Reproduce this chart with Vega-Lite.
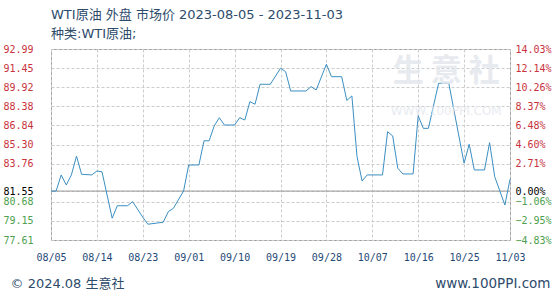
{
  "$schema": "https://vega.github.io/schema/vega-lite/v6.json",
  "autosize": "none",
  "width": 459,
  "height": 191,
  "padding": {"left": 51, "top": 49, "right": 50, "bottom": 60},
  "background": "#ffffff",
  "config": {
    "view": {"stroke": "#999999", "strokeWidth": 1},
    "font": "DejaVu Sans, Noto Sans CJK SC"
  },
  "title": {
    "text": "WTI原油 外盘 市场价 2023-08-05 - 2023-11-03",
    "subtitle": "种类:WTI原油;",
    "anchor": "start",
    "frame": "group",
    "offset": 3,
    "font": "DejaVu Sans, Noto Sans CJK SC",
    "fontSize": 13,
    "fontWeight": "normal",
    "color": "#2d4b6b",
    "subtitleFont": "DejaVu Sans, Noto Sans CJK SC",
    "subtitleFontSize": 13,
    "subtitleColor": "#2d4b6b",
    "subtitlePadding": 6
  },
  "datasets": {
    "price": [
      {"date": "2023-08-05", "value": 81.55},
      {"date": "2023-08-06", "value": 81.55},
      {"date": "2023-08-07", "value": 82.85},
      {"date": "2023-08-08", "value": 82.04},
      {"date": "2023-08-09", "value": 82.85},
      {"date": "2023-08-10", "value": 84.37},
      {"date": "2023-08-11", "value": 82.9},
      {"date": "2023-08-13", "value": 82.85},
      {"date": "2023-08-14", "value": 83.17},
      {"date": "2023-08-15", "value": 83.1},
      {"date": "2023-08-17", "value": 79.36},
      {"date": "2023-08-18", "value": 80.37},
      {"date": "2023-08-20", "value": 80.37},
      {"date": "2023-08-21", "value": 80.7},
      {"date": "2023-08-23", "value": 79.44},
      {"date": "2023-08-24", "value": 78.88},
      {"date": "2023-08-27", "value": 79.04},
      {"date": "2023-08-28", "value": 79.89},
      {"date": "2023-08-29", "value": 80.16},
      {"date": "2023-08-31", "value": 81.56},
      {"date": "2023-09-01", "value": 83.65},
      {"date": "2023-09-03", "value": 83.65},
      {"date": "2023-09-04", "value": 85.6},
      {"date": "2023-09-05", "value": 85.6},
      {"date": "2023-09-06", "value": 86.79},
      {"date": "2023-09-07", "value": 87.46},
      {"date": "2023-09-08", "value": 86.87},
      {"date": "2023-09-10", "value": 86.87},
      {"date": "2023-09-11", "value": 87.46},
      {"date": "2023-09-12", "value": 87.27},
      {"date": "2023-09-13", "value": 88.75},
      {"date": "2023-09-14", "value": 88.54},
      {"date": "2023-09-15", "value": 90.15},
      {"date": "2023-09-17", "value": 90.15},
      {"date": "2023-09-19", "value": 91.44},
      {"date": "2023-09-20", "value": 91.16},
      {"date": "2023-09-21", "value": 89.61},
      {"date": "2023-09-24", "value": 89.61},
      {"date": "2023-09-25", "value": 89.96},
      {"date": "2023-09-26", "value": 89.69},
      {"date": "2023-09-28", "value": 91.76},
      {"date": "2023-09-29", "value": 90.76},
      {"date": "2023-10-01", "value": 90.76},
      {"date": "2023-10-02", "value": 88.85},
      {"date": "2023-10-03", "value": 89.21},
      {"date": "2023-10-04", "value": 84.32},
      {"date": "2023-10-05", "value": 82.36},
      {"date": "2023-10-06", "value": 82.85},
      {"date": "2023-10-09", "value": 82.85},
      {"date": "2023-10-10", "value": 86.33},
      {"date": "2023-10-11", "value": 85.99},
      {"date": "2023-10-12", "value": 83.38},
      {"date": "2023-10-13", "value": 82.93},
      {"date": "2023-10-15", "value": 82.93},
      {"date": "2023-10-16", "value": 87.62},
      {"date": "2023-10-17", "value": 86.6},
      {"date": "2023-10-18", "value": 86.6},
      {"date": "2023-10-20", "value": 90.23},
      {"date": "2023-10-22", "value": 90.23},
      {"date": "2023-10-25", "value": 83.79},
      {"date": "2023-10-26", "value": 85.32},
      {"date": "2023-10-27", "value": 83.25},
      {"date": "2023-10-29", "value": 83.25},
      {"date": "2023-10-30", "value": 85.45},
      {"date": "2023-10-31", "value": 82.71},
      {"date": "2023-11-02", "value": 80.43},
      {"date": "2023-11-03", "value": 82.5}
    ],
    "watermark": [
      {"label": "生  意  社", "sub": "WWW.100PPI.COM"}
    ]
  },
  "layer": [
    {
      "data": {"values": [{}]},
      "mark": {"type": "rule", "color": "#999999", "strokeWidth": 1},
      "encoding": {
        "y": {
          "datum": 81.55,
          "type": "quantitative",
          "scale": {"domain": [77.61, 92.99], "nice": false, "zero": false},
          "axis": {
            "orient": "left",
            "title": null,
            "values": [77.61, 79.148, 80.684, 81.55, 83.762, 85.3, 86.838, 88.376, 89.916, 91.452, 92.99],
            "format": ".2f",
            "domain": false,
            "ticks": false,
            "labelPadding": 18,
            "labelFont": "DejaVu Sans Mono",
            "labelFontSize": 10,
            "labelColor": {"condition": [{"test": "datum.value > 81.56", "value": "#c8323c"}, {"test": "datum.value < 81.54", "value": "#4ea04e"}], "value": "#000000"},
            "labelBaseline": "middle",
            "grid": true,
            "gridColor": "#cccccc",
            "gridDash": [3, 2],
            "gridWidth": 1
          }
        }
      }
    },
    {
      "data": {"name": "price"},
      "mark": {"type": "line", "color": "#3b8fc2", "strokeWidth": 1, "interpolate": "linear"},
      "encoding": {
        "x": {
          "field": "date",
          "type": "temporal",
          "scale": {"type": "utc", "domain": [{"year": 2023, "month": 8, "date": 5, "utc": true}, {"year": 2023, "month": 11, "date": 3, "utc": true}], "nice": false},
          "axis": {
            "title": "© 2024.08 生意社",
            "titleAnchor": "start",
            "titleAlign": "left",
            "titleBaseline": "middle",
            "titleX": -41,
            "titleY": 43,
            "titleFont": "DejaVu Sans, Noto Sans CJK SC",
            "titleFontSize": 13,
            "titleFontWeight": "normal",
            "titleColor": "#2d4b6b",
            "values": [
              {"year": 2023, "month": 8, "date": 5, "utc": true},
              {"year": 2023, "month": 8, "date": 14, "utc": true},
              {"year": 2023, "month": 8, "date": 23, "utc": true},
              {"year": 2023, "month": 9, "date": 1, "utc": true},
              {"year": 2023, "month": 9, "date": 10, "utc": true},
              {"year": 2023, "month": 9, "date": 19, "utc": true},
              {"year": 2023, "month": 9, "date": 28, "utc": true},
              {"year": 2023, "month": 10, "date": 7, "utc": true},
              {"year": 2023, "month": 10, "date": 16, "utc": true},
              {"year": 2023, "month": 10, "date": 25, "utc": true},
              {"year": 2023, "month": 11, "date": 3, "utc": true}
            ],
            "labelExpr": "utcFormat(datum.value, '%m/%d')",
            "labelFont": "DejaVu Sans Mono",
            "labelFontSize": 10,
            "labelColor": "#1f4a78",
            "labelPadding": 12,
            "labelFlush": false,
            "labelOverlap": false,
            "domain": false,
            "ticks": false,
            "grid": true,
            "gridColor": "#cccccc",
            "gridDash": [3, 2]
          }
        },
        "y": {
          "field": "value",
          "type": "quantitative",
          "axis": {
            "orient": "right",
            "title": "www.100PPI.com",
            "titleAngle": 0,
            "titleAlign": "right",
            "titleBaseline": "middle",
            "titleX": 40,
            "titleY": 234,
            "titleFont": "DejaVu Sans",
            "titleFontSize": 13.5,
            "titleFontWeight": "normal",
            "titleColor": "#2d4b6b",
            "values": [77.61, 79.148, 80.684, 81.55, 83.762, 85.3, 86.838, 88.376, 89.916, 91.452, 92.99],
            "labelExpr": "format((datum.value / 81.55 - 1) * 100, '.2f') + '%'",
            "domain": false,
            "ticks": false,
            "labelPadding": 5,
            "labelFont": "DejaVu Sans Mono",
            "labelFontSize": 10,
            "labelColor": {"condition": [{"test": "datum.value > 81.56", "value": "#c8323c"}, {"test": "datum.value < 81.54", "value": "#4ea04e"}], "value": "#000000"},
            "labelBaseline": "middle",
            "grid": false
          }
        }
      }
    },
    {
      "data": {"name": "watermark"},
      "mark": {"type": "text", "font": "Noto Sans CJK SC", "fontSize": 31, "fontWeight": "bold", "color": "#e2e5ec", "opacity": 0.8, "align": "center", "baseline": "middle"},
      "encoding": {
        "x": {"datum": {"year": 2023, "month": 10, "date": 21, "hours": 12, "utc": true}, "type": "temporal"},
        "y": {"datum": 91.1, "type": "quantitative", "axis": null},
        "text": {"field": "label"}
      }
    },
    {
      "data": {"name": "watermark"},
      "mark": {"type": "text", "font": "DejaVu Sans", "fontSize": 12, "color": "#e4e7ee", "opacity": 0.8, "align": "center", "baseline": "middle"},
      "encoding": {
        "x": {"datum": {"year": 2023, "month": 10, "date": 21, "hours": 12, "utc": true}, "type": "temporal"},
        "y": {"datum": 88.0, "type": "quantitative", "axis": null},
        "text": {"field": "sub"}
      }
    }
  ],
  "resolve": {"scale": {"y": "shared"}, "axis": {"y": "independent"}}
}
